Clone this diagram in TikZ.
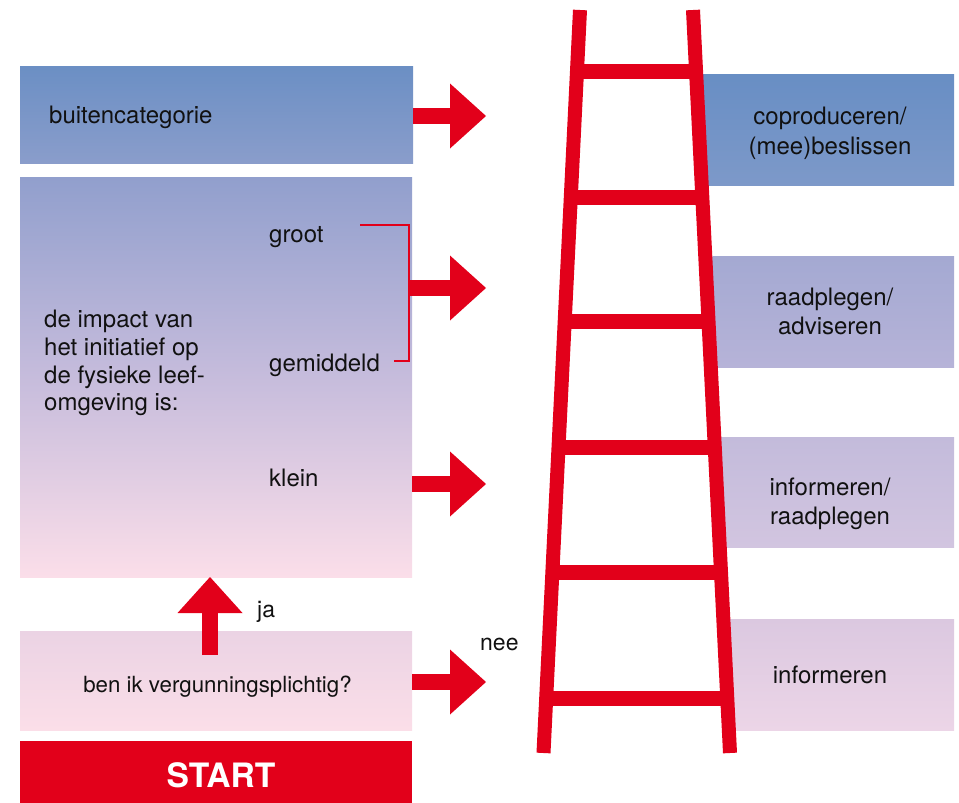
\documentclass[tikz,border=0pt]{standalone}
\usepackage{fontspec}
\setmainfont{TeX Gyre Heros}
\usetikzlibrary{arrows.meta,calc}
\definecolor{brandred}{HTML}{E2001A}
\definecolor{txtc}{HTML}{111111}
\tikzset{
  box/.style={rectangle, draw=none, inner sep=0pt, outer sep=0pt, anchor=north west},
  txt/.style={inner sep=0pt, text=txtc, font=\fontsize{24}{27.7}\selectfont},
  rtxt/.style={inner sep=0pt, text=txtc, align=center, font=\fontsize{24}{29.5}\selectfont},
  bigarrow/.style={draw=brandred, line width=16pt, -{Triangle[width=65pt,length=36pt,line width=0pt]}},
  rail/.style={draw=brandred, line width=14pt},
  rung/.style={draw=brandred, line width=15pt},
  bracketline/.style={draw=brandred, line width=2pt}
}
\begin{document}
\begin{tikzpicture}[x=1pt,y=-1pt]
\useasboundingbox (0,0) rectangle (959,803);

% left boxes
\node[box, top color={rgb,255:red,107;green,143;blue,196}, bottom color={rgb,255:red,138;green,157;blue,203}, minimum width=393pt, minimum height=97pt] (b1) at (20,66) {};
\node[box, top color={rgb,255:red,145;green,159;blue,205}, bottom color={rgb,255:red,251;green,222;blue,233}, middle color={rgb,255:red,198;green,188;blue,220}, minimum width=392pt, minimum height=400pt] (b2) at (20,177) {};
\node[box, top color={rgb,255:red,235;green,211;blue,228}, bottom color={rgb,255:red,251;green,222;blue,232}, minimum width=392pt, minimum height=99pt] (b3) at (20,631) {};
\node[box, fill=brandred, minimum width=392pt, minimum height=62pt] (st) at (20,741) {};

% right boxes
\node[box, top color={rgb,255:red,104;green,142;blue,196}, bottom color={rgb,255:red,125;green,153;blue,201}, minimum width=251pt, minimum height=111pt] (r1) at (703,74) {};
\node[box, top color={rgb,255:red,164;green,169;blue,210}, bottom color={rgb,255:red,182;green,179;blue,216}, minimum width=241.5pt, minimum height=111pt] (r2) at (712.5,256) {};
\node[box, top color={rgb,255:red,195;green,187;blue,219}, bottom color={rgb,255:red,210;green,197;blue,224}, minimum width=233pt, minimum height=110pt] (r3) at (721,437) {};
\node[box, top color={rgb,255:red,219;green,200;blue,224}, bottom color={rgb,255:red,236;green,213;blue,231}, minimum width=224pt, minimum height=111pt] (r4) at (730,619) {};

% ladder
\coordinate (lt) at (580,10);
\coordinate (lb) at (543.5,753);
\coordinate (rt) at (693,10);
\coordinate (rb) at (730,753);
\foreach \t in {0.0821,0.2517,0.4199,0.5882,0.7564,0.9273}
  \draw[rung] ($(lt)!\t!(lb)$) -- ($(rt)!\t!(rb)$);
\draw[rail] (lt) -- (lb);
\draw[rail] (rt) -- (rb);

% texts left
\node[txt, anchor=base west] (tbuiten) at (49,123) {buitencategorie};
\node[txt, anchor=north west, align=left] (timpact) at (44,310) {de impact van\\het initiatief op\\de fysieke leef-\\omgeving is:};
\node[txt, anchor=base west] (tgroot) at (269,242) {groot};
\node[txt, anchor=base west] (tgem) at (269,371) {gemiddeld};
\node[txt, anchor=base west] (tklein) at (269,486) {klein};
\node[txt, anchor=base, font=\fontsize{22.3}{26}\selectfont] (tvraag) at (217.5,692) {ben ik vergunningsplichtig?};
\node[txt, anchor=base west, font=\fontsize{23}{26}\selectfont] (tja) at (257,617) {ja};
\node[txt, anchor=base west, font=\fontsize{23}{26}\selectfont] (tnee) at (480,650) {nee};
\node[inner sep=0pt, anchor=base, text=white, font=\fontsize{33.6}{38}\selectfont\bfseries] (tstart) at (221,787) {START};

% texts right
\coordinate (rx) at (830,0);
\node[rtxt, yshift=-4pt] (tr1) at (r1.center -| rx) {coproduceren/\\(mee)beslissen};
\node[rtxt] (tr2) at (r2.center -| rx) {raadplegen/\\adviseren};
\node[rtxt, yshift=-12pt] (tr3) at (r3.center -| rx) {informeren/\\raadplegen};
\node[rtxt] (tr4) at (r4.center -| rx) {informeren};

% bracket
\coordinate (brA) at (360,225);
\coordinate (brB) at (409,225);
\coordinate (brC) at (409,361);
\coordinate (brD) at (394,361);
\draw[bracketline] (brA) -- (brB) -- (brC) -- (brD);

% arrows
\coordinate (a1) at (486,116);
\coordinate (a2s) at (409,288);
\coordinate (a2) at (486,288);
\coordinate (a3) at (486,484);
\coordinate (a4) at (486,682);
\coordinate (u0) at (210,655);
\draw[bigarrow] (a1 -| b1.east) -- (a1);
\draw[bigarrow] (a2s) -- (a2);
\draw[bigarrow] (a3 -| b2.east) -- (a3);
\draw[bigarrow] (a4 -| b3.east) -- (a4);
\draw[bigarrow] (u0) -- (u0 |- b2.south);
\end{tikzpicture}
\end{document}
